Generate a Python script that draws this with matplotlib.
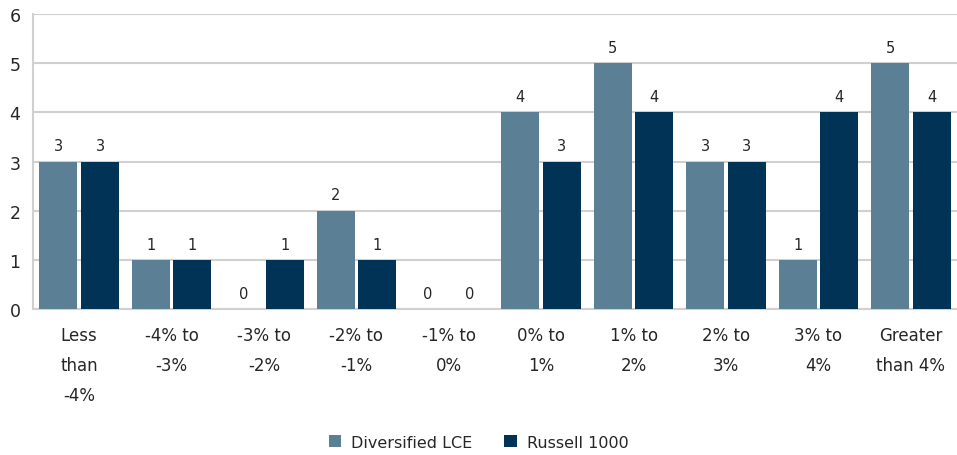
import numpy as np
import matplotlib.pyplot as plt

# data
categories = ["Less\nthan\n-4%", "-4% to\n-3%", "-3% to\n-2%", "-2% to\n-1%", "-1% to\n0%",
              "0% to\n1%", "1% to\n2%", "2% to\n3%", "3% to\n4%", "Greater\nthan 4%"]
diversified = [3, 1, 0, 2, 0, 4, 5, 3, 1, 5]
russell = [3, 1, 1, 1, 0, 3, 4, 3, 4, 4]

c_div = "#5b7f94"
c_rus = "#003356"
grid_c = "#d0d0d0"
text_c = "#262626"

plt.rcParams['font.family'] = ['DejaVu Sans']

fig = plt.figure(figsize=(9.57, 4.56), dpi=100)
ax = fig.add_axes([0.0345, 0.320, 0.9655, 0.647])

x = np.arange(len(categories))
w = 0.41
off = 0.225
b1 = ax.bar(x - off, diversified, w, color=c_div, label="Diversified LCE", zorder=3)
b2 = ax.bar(x + off, russell, w, color=c_rus, label="Russell 1000", zorder=3)

for bars, vals in ((b1, diversified), (b2, russell)):
    for r, v in zip(bars, vals):
        ax.text(r.get_x() + r.get_width() / 2, v + 0.17, str(v), ha="center", va="bottom",
                fontsize=10.5, color=text_c)

ax.set_xlim(-0.5, len(categories) - 0.5)
ax.set_ylim(0, 6)
ax.set_yticks(range(0, 7))
ax.set_xticks(x)
ax.set_xticklabels(categories, fontsize=12, color=text_c, linespacing=1.86)
ax.tick_params(axis="y", length=0, pad=9, labelsize=12.5, labelcolor=text_c)
ax.tick_params(axis="x", length=0, pad=12)
ax.grid(axis="y", color=grid_c, linewidth=1.5, zorder=0)

for s in ("top", "right"):
    ax.spines[s].set_visible(False)
for s in ("left", "bottom"):
    ax.spines[s].set_color(grid_c)
    ax.spines[s].set_linewidth(1.5)

fig.legend(loc="lower center", bbox_to_anchor=(0.5, -0.02), ncol=2, frameon=False,
           fontsize=11.5, handlelength=0.8, handleheight=0.8, handletextpad=0.6,
           columnspacing=2.0, labelcolor=text_c)

fig.savefig("out.png", dpi=100)
